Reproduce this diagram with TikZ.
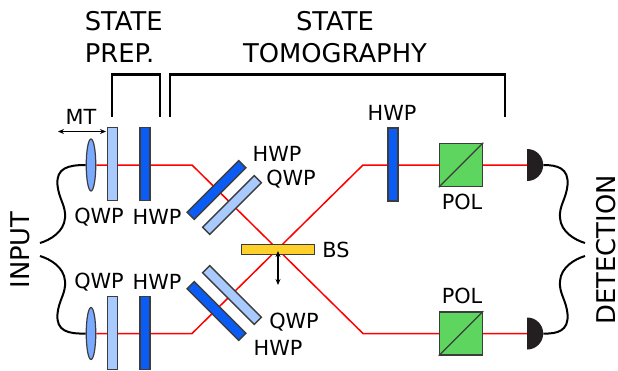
\documentclass[tikz,border=0pt]{standalone}
\usepackage{fontspec}
\setmainfont{DejaVu Sans}
\usetikzlibrary{shapes,backgrounds,arrows.meta}
\definecolor{hwpblue}{HTML}{0A5CF5}
\definecolor{qwpblue}{HTML}{A9CAFF}
\definecolor{lensblue}{HTML}{7AAAFF}
\definecolor{bsyellow}{HTML}{FFD02A}
\definecolor{polgreen}{HTML}{5DD55F}
\definecolor{edgegrey}{HTML}{3C3C3C}
\definecolor{detblack}{HTML}{231F20}
\tikzstyle{plate}=[rectangle,draw=edgegrey,line width=1.5pt,inner sep=0pt,minimum width=10pt,minimum height=73pt]
\tikzstyle{hwp}=[plate,fill=hwpblue]
\tikzstyle{qwp}=[plate,fill=qwpblue]
\tikzstyle{lens}=[ellipse,draw=edgegrey,fill=lensblue,line width=1.2pt,inner sep=0pt,minimum width=9.5pt,minimum height=52pt]
\tikzstyle{bsplate}=[rectangle,draw=edgegrey,fill=bsyellow,line width=1.2pt,inner sep=0pt,minimum width=73pt,minimum height=10pt]
\tikzstyle{pol}=[rectangle,draw=edgegrey,fill=polgreen,line width=1.5pt,inner sep=0pt,minimum width=43pt,minimum height=43pt]
\tikzstyle{det}=[semicircle,fill=detblack,shape border rotate=270,anchor=chord center,inner sep=0pt,minimum width=32pt]
\tikzstyle{beam}=[draw=red,line width=1.5pt]
\tikzstyle{fiber}=[draw=black,line width=2pt]
\tikzstyle{bracket}=[draw=black,line width=2.6pt]
\tikzstyle{lab}=[font=\fontsize{20.8}{25}\selectfont,inner sep=0pt]
\tikzstyle{biglab}=[font=\fontsize{25.8}{32}\selectfont,inner sep=0pt]
\begin{document}
\begin{tikzpicture}[x=1pt,y=-1pt,>={Stealth[length=6pt,width=5pt]}]
        \useasboundingbox (0,0) rectangle (618,370);
        % input lenses and plates
        \node [style=lens] (lens1) at (91,165) {};
        \node [style=lens] (lens2) at (91,333.5) {};
        \node [style=qwp] (qwp1) at (112.5,164) {};
        \node [style=hwp] (hwp1) at (145,164) {};
        \node [style=qwp] (qwp2) at (112.5,333) {};
        \node [style=hwp] (hwp2) at (145,333) {};
        % tilted plates
        \node [style=hwp,rotate=-45] (hwp3) at (216.5,190) {};
        \node [style=qwp,rotate=-45] (qwp3) at (232,205) {};
        \node [style=hwp,rotate=45] (hwp4) at (216.5,311) {};
        \node [style=qwp,rotate=45] (qwp4) at (232,295) {};
        \node [style=bsplate] (bs) at (278,249.5) {};
        \node [style=hwp] (hwp5) at (393,164.5) {};
        \node [style=pol] (pol1) at (461,165) {};
        \node [style=pol] (pol2) at (461,333.5) {};
        \node [style=det] (det1) at (527,165) {};
        \node [style=det] (det2) at (527,333.5) {};
        \coordinate (tl) at (192,165);
        \coordinate (tr) at (363,165);
        \coordinate (bl) at (192,333.5);
        \coordinate (br) at (363,333.5);
        \coordinate (in1) at (40,243);
        \coordinate (in2) at (40,256);
        \coordinate (out1) at (585,243);
        \coordinate (out2) at (585,256);
        \coordinate (mtl) at (58,131.5);
        \coordinate (mtr) at (106,131.5);
        \coordinate (bsa) at (278,251);
        \coordinate (bsb) at (278,285);
        \coordinate (pa) at (112,117);
        \coordinate (pb) at (112,74.5);
        \coordinate (pc) at (160,74.5);
        \coordinate (pd) at (160,117);
        \coordinate (ta) at (170,117);
        \coordinate (tb) at (170,74.5);
        \coordinate (tc) at (505,74.5);
        \coordinate (td) at (505,117);
        \begin{scope}[on background layer]
        \draw [style=beam] (lens1) to (tl) to (br) to (det2.chord center);
        \draw [style=beam] (lens2) to (bl) to (tr) to (det1.chord center);
        \end{scope}
        \draw [line width=1.2pt,draw=edgegrey] (pol1.south west) to (pol1.north east);
        \draw [line width=1.2pt,draw=edgegrey] (pol2.south west) to (pol2.north east);
        % fibers
        \draw [style=fiber] (lens1.west) .. controls (68,165) and (56,168) .. (57.5,185) .. controls (59,200) and (66,205) .. (65,218) .. controls (64,232) and (50,240) .. (in1);
        \draw [style=fiber] (lens2.west) .. controls (68,334) and (56,331) .. (57.5,314) .. controls (59,299) and (66,294) .. (65,281) .. controls (64,267) and (50,259) .. (in2);
        \draw [style=fiber] (det1.apex) .. controls (557,165) and (569,168) .. (567.5,185) .. controls (566,200) and (559,205) .. (560,218) .. controls (561,232) and (575,240) .. (out1);
        \draw [style=fiber] (det2.apex) .. controls (557,334) and (569,331) .. (567.5,314) .. controls (566,299) and (559,294) .. (560,281) .. controls (561,267) and (575,259) .. (out2);
        % brackets and arrows
        \draw [style=bracket] (pa) to (pb) to (pc) to (pd);
        \draw [style=bracket] (ta) to (tb) to (tc) to (td);
        \draw [<->,line width=1.2pt] (mtl) to (mtr);
        \draw [<->,line width=1.2pt] (bsa) to (bsb);
        % labels
        \node [style=biglab,align=left] (prep) at (123.7,37) {STATE\\PREP.};
        \node [style=biglab,align=center] (tomo) at (335,37) {STATE\\TOMOGRAPHY};
        \node [style=biglab,rotate=90] (input) at (20.5,250) {INPUT};
        \node [style=biglab,rotate=90] (detect) at (606,250) {DETECTION};
        \node [style=lab] (mt) at (81,116.5) {MT};
        \node [style=lab] (t1) at (99,217) {QWP};
        \node [style=lab] (t2) at (157,217) {HWP};
        \node [style=lab] (t3) at (99,282) {QWP};
        \node [style=lab] (t4) at (157,282) {HWP};
        \node [style=lab] (t5) at (277,154) {HWP};
        \node [style=lab] (t6) at (291,179) {QWP};
        \node [style=lab] (t7) at (294,322) {QWP};
        \node [style=lab] (t8) at (278,348) {HWP};
        \node [style=lab] (t9) at (336,249.5) {BS};
        \node [style=lab] (t10) at (392,113) {HWP};
        \node [style=lab] (t11) at (462,202) {POL};
        \node [style=lab] (t12) at (462,296) {POL};
    \end{tikzpicture}
\end{document}
